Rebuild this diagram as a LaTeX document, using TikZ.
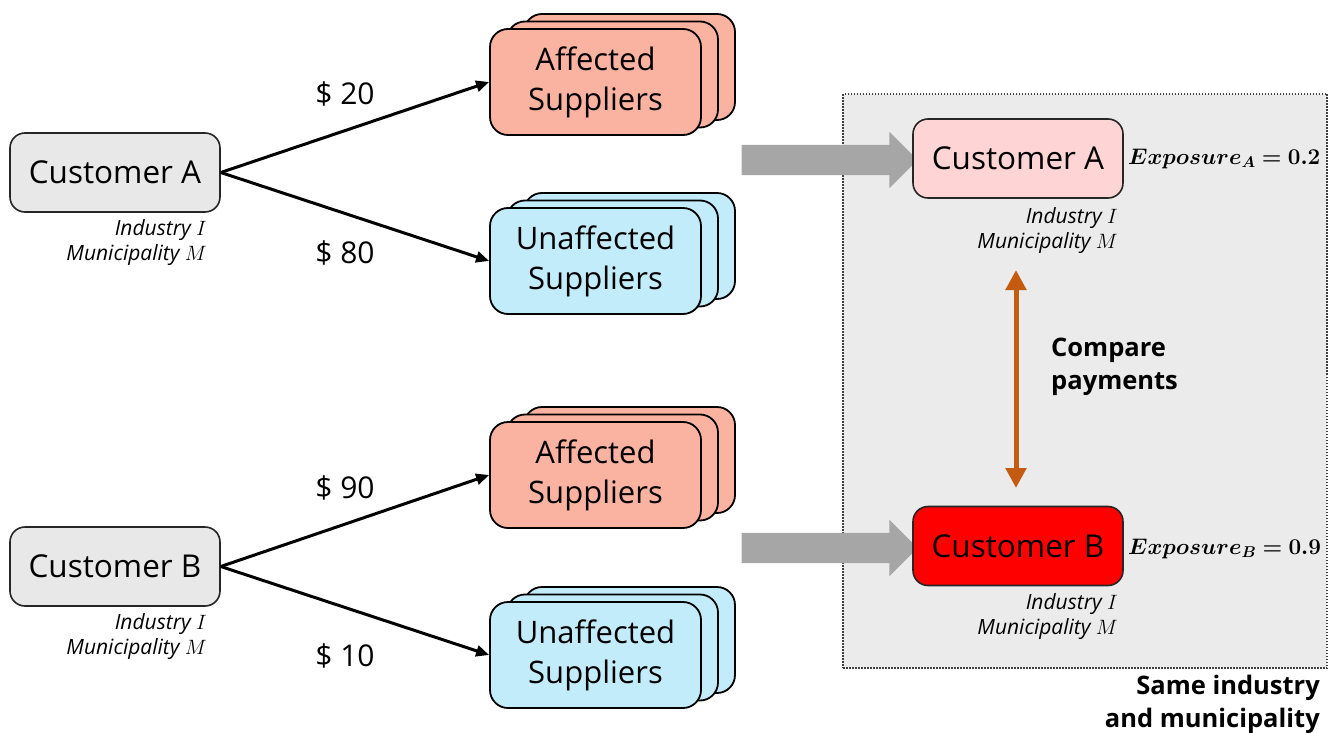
\documentclass[tikz,border=0pt]{standalone}
\usepackage{fontspec}
\setmainfont{Open Sans}
\usepackage{bm}
\usepackage{graphicx}
\usetikzlibrary{arrows.meta,shapes.arrows,positioning}

\definecolor{custgray}{HTML}{E8E8E8}
\definecolor{affected}{HTML}{FBB3A1}
\definecolor{unaffected}{HTML}{C2ECFA}
\definecolor{lowexp}{HTML}{FFD4D4}
\definecolor{panelgray}{HTML}{EBEBEB}
\definecolor{fatgray}{HTML}{A6A6A6}
\definecolor{burnt}{HTML}{C55A11}

\tikzset{
  cust/.style={draw=black!85, line width=1.6, rounded corners=15, minimum width=210,
    minimum height=79, inner sep=0, font=\fontsize{31.5}{36}\selectfont},
  supp/.style={draw=black, line width=1.8, rounded corners=18, minimum width=211,
    minimum height=106, inner sep=0, align=center, font=\fontsize{31}{40}\selectfont},
  info/.style={align=right, inner sep=0, font=\fontsize{21}{25}\selectfont\itshape},
  amount/.style={inner sep=0, font=\fontsize{30}{34}\selectfont},
  pay/.style={-{Triangle[length=13pt,width=11pt]}, line width=3},
  fat/.style={single arrow, fill=fatgray, minimum height=176, minimum width=56,
    inner sep=15, single arrow head extend=13, single arrow head indent=0},
  heading/.style={inner sep=0, font=\fontsize{25.5}{33}\selectfont\bfseries},
  expo/.style={inner sep=0, anchor=west, font=\fontsize{20.74}{25}\selectfont},
}

% pila de tres tarjetas: nombre, x, y del frente, relleno, texto
\newcommand\supstack[5]{%
  \node[supp, fill=#4] (#1-3) at (#2+34,#3-15) {};
  \node[supp, fill=#4] (#1-2) at (#2+17,#3-7.5) {};
  \node[supp, fill=#4] (#1-1) at (#2,#3) {#5};
}
% exposicion en negrita
\newcommand\expval[2]{\scalebox{1.085}{$\bm{Exposure_#1 = #2}$}}

\begin{document}
\begin{tikzpicture}[x=1pt, y=-1pt]
  \useasboundingbox (0,0) rectangle (1336,733);

  % Panel derecho (comparacion)
  \node[draw=black!75, fill=panelgray, line width=1.5, dash pattern=on 1.5pt off 1.5pt,
    minimum width=484, minimum height=574, inner sep=0] (panel) at (1085,381) {};

  % Clientes a la izquierda
  \node[cust, fill=custgray] (custA) at (115,172.5) {Customer A};
  \node[cust, fill=custgray] (custB) at (115,566.5) {Customer B};
  \node[info, anchor=east] (infoA) at (207,242.5) {Industry $I$\\Municipality $M$};
  \node[info, anchor=east] (infoB) at (207,636.5) {Industry $I$\\Municipality $M$};

  % Proveedores
  \supstack{affA}{595.5}{82}{affected}{Affected\\Suppliers}
  \supstack{unaA}{595.5}{261}{unaffected}{Unaffected\\Suppliers}
  \supstack{affB}{595.5}{475}{affected}{Affected\\Suppliers}
  \supstack{unaB}{595.5}{655}{unaffected}{Unaffected\\Suppliers}

  % Pagos
  \draw[pay] (custA.east) -- (affA-1.west);
  \draw[pay] (custA.east) -- (unaA-1.west);
  \draw[pay] (custB.east) -- (affB-1.west);
  \draw[pay] (custB.east) -- (unaB-1.west);
  \node[amount] (amtA1) at (345,94) {\$ 20};
  \node[amount] (amtA2) at (345,253) {\$ 80};
  \node[amount] (amtB1) at (345,488) {\$ 90};
  \node[amount] (amtB2) at (345,656) {\$ 10};

  % Flechas gruesas hacia el panel
  \node[fat] (fatA) at (822,160) {};
  \node[fat] (fatB) at (822,548) {};

  % Clientes dentro del panel
  \node[cust, fill=lowexp] (custA2) at (1018,158.5) {Customer A};
  \node[cust, fill=red] (custB2) at (1018,546) {Customer B};
  \node[info, anchor=east] (infoA2) at (1118,231) {Industry $I$\\Municipality $M$};
  \node[info, anchor=east] (infoB2) at (1118,616.5) {Industry $I$\\Municipality $M$};
  \node[expo] (expA) at (1128,158.5) {\expval{A}{0.2}};
  \node[expo] (expB) at (1128,549) {\expval{B}{0.9}};

  % Comparacion
  \coordinate (cmpTop) at (1016,270);
  \coordinate (cmpBot) at (1016,488);
  \draw[burnt, line width=5, {Triangle[length=20pt,width=20pt]}-{Triangle[length=20pt,width=20pt]}]
    (cmpTop) -- (cmpBot);
  \node[heading, anchor=west, align=left] (cmpText) at (1051,367) {Compare\\payments};
  \node[heading, anchor=east, align=right] (same) at (1320,704) {Same industry\\and municipality};
\end{tikzpicture}
\end{document}
